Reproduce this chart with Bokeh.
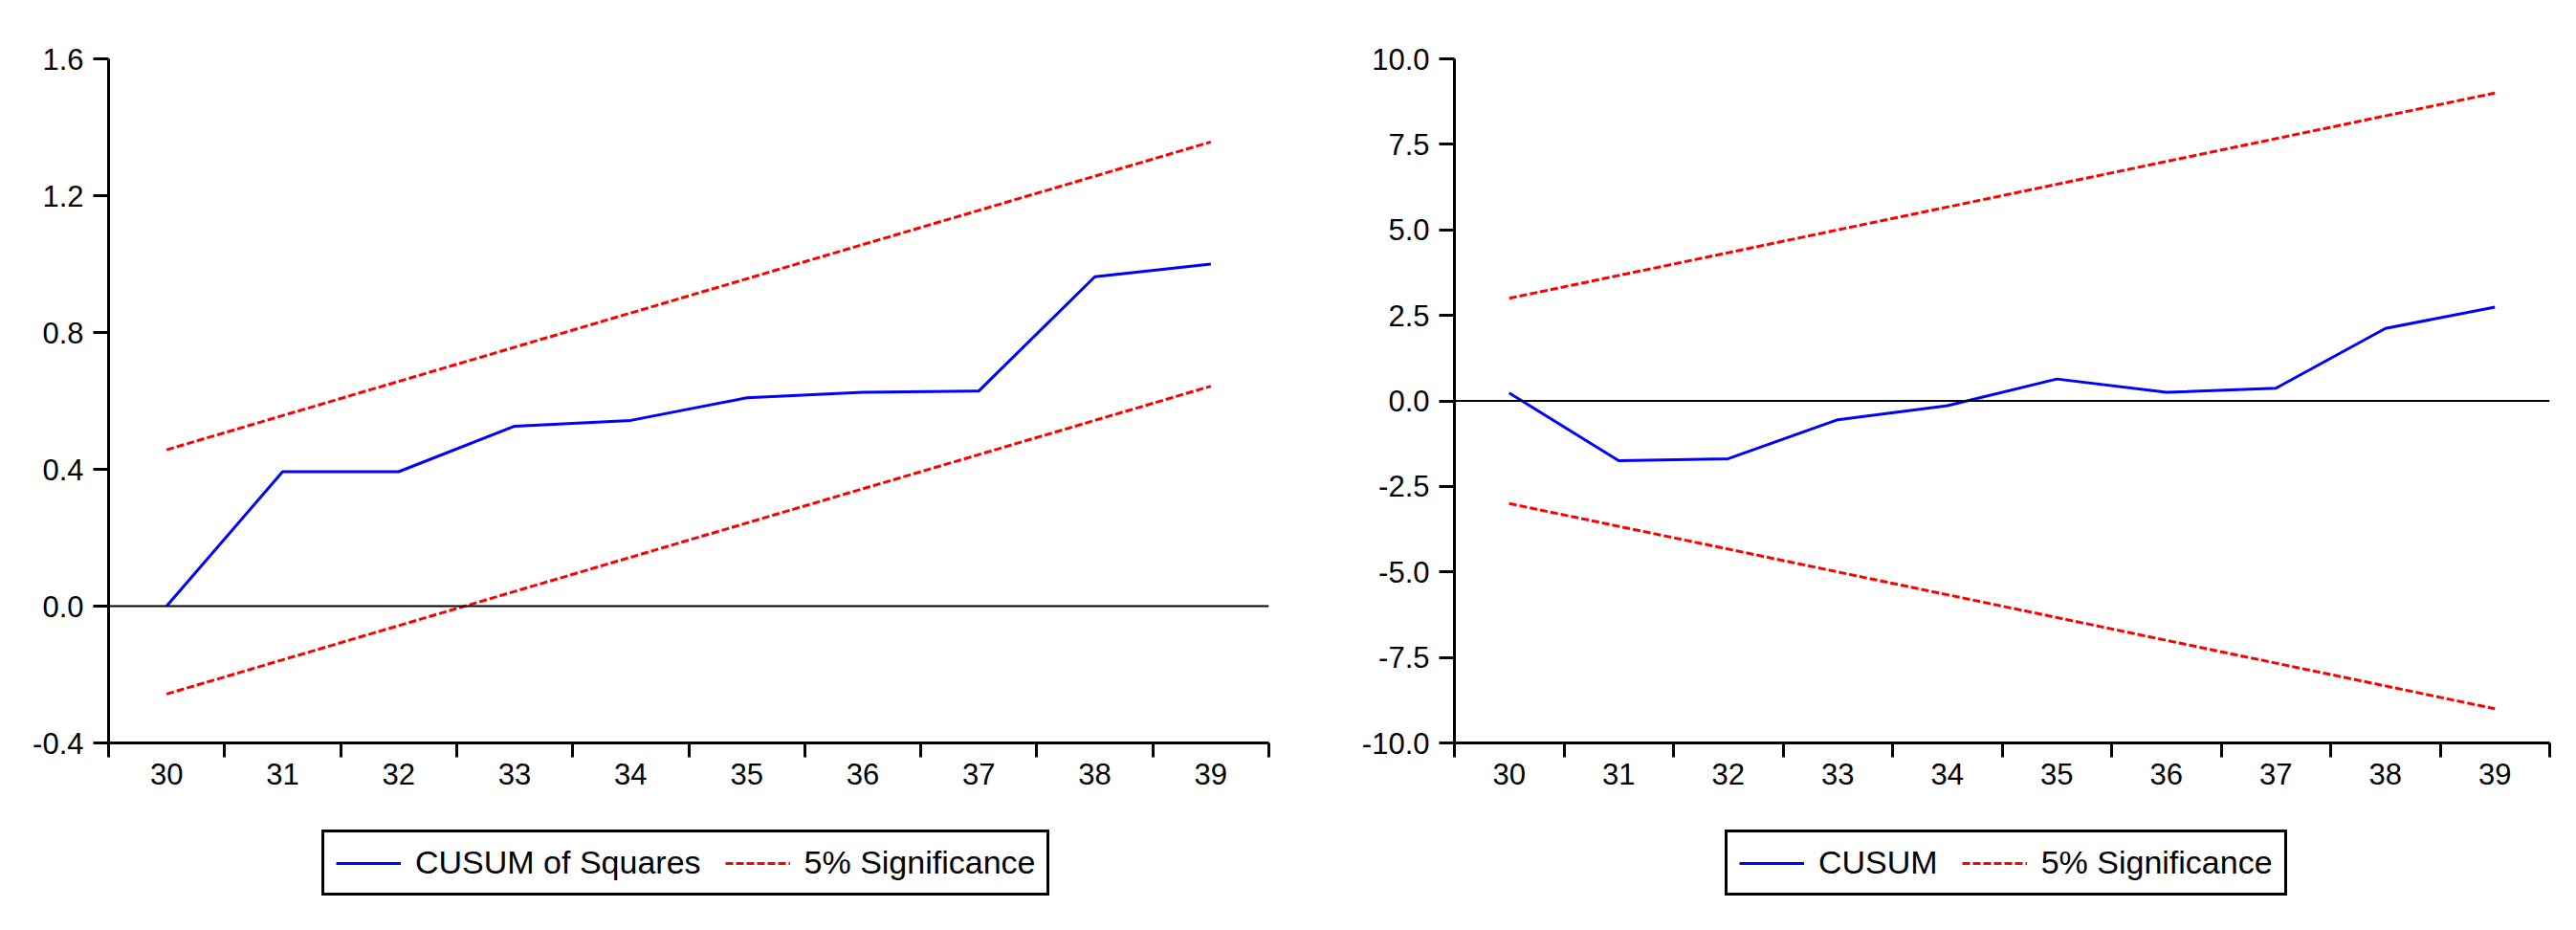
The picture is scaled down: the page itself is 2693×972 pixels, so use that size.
from bokeh.plotting import figure
from bokeh.layouts import row, column
from bokeh.models import (Range1d, FixedTicker, NumeralTickFormatter, Span,
                          Legend, LegendItem)
from bokeh.embed import file_html
from bokeh.resources import INLINE

# ---------------- data ----------------
periods = [30, 31, 32, 33, 34, 35, 36, 37, 38, 39]

cusum_sq = [0.0, 0.393, 0.393, 0.526, 0.543, 0.609, 0.625, 0.629, 0.963, 1.0]
cusum_sq_upper = [0.457, 0.557, 0.657, 0.757, 0.857, 0.957, 1.057, 1.157, 1.257, 1.357]
cusum_sq_lower = [-0.257, -0.157, -0.057, 0.043, 0.143, 0.243, 0.343, 0.443, 0.543, 0.643]

cusum = [0.23, -1.75, -1.69, -0.55, -0.14, 0.64, 0.25, 0.37, 2.12, 2.74]
cusum_upper = [3.0, 3.667, 4.333, 5.0, 5.667, 6.333, 7.0, 7.667, 8.333, 9.0]
cusum_lower = [-3.0, -3.667, -4.333, -5.0, -5.667, -6.333, -7.0, -7.667, -8.333, -9.0]

left_yticks = [-0.4, 0.0, 0.4, 0.8, 1.2, 1.6]
right_yticks = [-10.0, -7.5, -5.0, -2.5, 0.0, 2.5, 5.0, 7.5, 10.0]

left_labels = ["CUSUM of Squares", "5% Significance"]
right_labels = ["CUSUM", "5% Significance"]

FONT = "Liberation Sans"
BLUE = "#0000FF"
RED = "#FF0000"
DASH = "8 3"
LW = 3


def make_panel(width, border_left, border_right, y_lo, y_hi, yticks,
               series, upper, lower):
    p = figure(width=width, height=860, output_backend="svg",
               toolbar_location=None, x_range=Range1d(29.5, 39.5),
               y_range=Range1d(y_lo, y_hi),
               min_border_left=border_left, min_border_right=border_right,
               min_border_top=61, min_border_bottom=84)
    p.outline_line_color = None
    p.grid.visible = False
    p.background_fill_color = "white"
    p.border_fill_color = "white"

    # x axis: labels at the centres, tick marks at the boundaries
    bounds = [v - 0.5 for v in periods] + [periods[-1] + 0.5]
    xa = p.xaxis[0]
    xa.ticker = FixedTicker(ticks=periods, minor_ticks=bounds)
    xa.major_tick_line_color = None
    xa.major_tick_out = 15
    xa.major_tick_in = 0
    xa.minor_tick_out = 15
    xa.minor_tick_in = 0
    xa.minor_tick_line_color = "black"
    xa.minor_tick_line_width = 3
    xa.axis_line_width = 3
    xa.axis_line_color = "black"
    xa.major_label_text_font = FONT
    xa.major_label_text_font_size = "31px"
    xa.major_label_text_color = "black"
    xa.major_label_standoff = 6

    ya = p.yaxis[0]
    ya.ticker = FixedTicker(ticks=yticks, minor_ticks=[])
    ya.formatter = NumeralTickFormatter(format="0.0")
    ya.major_tick_out = 16
    ya.major_tick_in = 0
    ya.major_tick_line_width = 3
    ya.major_tick_line_color = "black"
    ya.minor_tick_line_color = None
    ya.axis_line_width = 3
    ya.axis_line_color = "black"
    ya.major_label_text_font = FONT
    ya.major_label_text_font_size = "31px"
    ya.major_label_text_color = "black"
    ya.major_label_standoff = 10

    p.add_layout(Span(location=0, dimension="width", line_color="black",
                      line_width=2))

    p.line(periods, series, line_color=BLUE, line_width=LW)
    p.line(periods, upper, line_color=RED, line_width=LW, line_dash=DASH)
    p.line(periods, lower, line_color=RED, line_width=LW, line_dash=DASH)
    return p


def make_legend(width, labels, legend_x):
    q = figure(width=width, height=100, output_backend="svg",
               toolbar_location=None, x_axis_location=None,
               y_axis_location=None, x_range=Range1d(0, 1),
               y_range=Range1d(0, 1), min_border=0)
    q.outline_line_color = None
    q.grid.visible = False
    # legend keys only: these segments lie outside the visible range
    r1 = q.line([-5, -4], [-5, -4], line_color=BLUE, line_width=LW)
    r2 = q.line([-5, -4], [-5, -4], line_color=RED, line_width=LW,
                line_dash=DASH)
    legend = Legend(items=[LegendItem(label=labels[0], renderers=[r1]),
                           LegendItem(label=labels[1], renderers=[r2])],
                    orientation="horizontal",
                    location=(legend_x, 24),
                    label_text_font=FONT, label_text_font_size="34px",
                    label_text_color="black",
                    glyph_width=68, glyph_height=20, label_height=35,
                    label_standoff=15, spacing=25, padding=12, margin=0,
                    border_line_color="black", border_line_width=3,
                    border_line_alpha=1.0,
                    background_fill_color="white", background_fill_alpha=1.0)
    q.add_layout(legend, "center")
    return q


left = make_panel(1340, 113, 14, -0.4, 1.6, left_yticks,
                  cusum_sq, cusum_sq_upper, cusum_sq_lower)
right = make_panel(1345, 180, 20, -10.0, 10.0, right_yticks,
                   cusum, cusum_upper, cusum_lower)
left_leg = make_legend(1340, left_labels, 336)
right_leg = make_legend(1345, right_labels, 463)

layout = column(row(left, right), row(left_leg, right_leg))
open("out.html", "w").write(file_html(layout, INLINE))
